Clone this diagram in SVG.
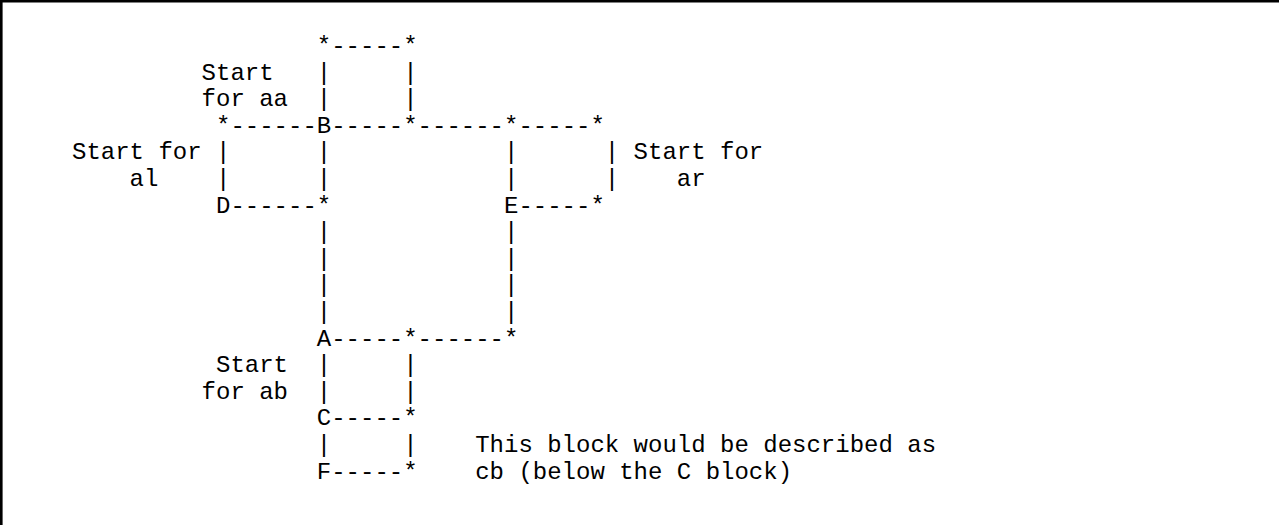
<svg xmlns="http://www.w3.org/2000/svg" width="1279" height="525" viewBox="0 0 1279 525">
<style>
text{font-family:'Liberation Mono','Courier New',monospace;font-size:24px;fill:#000;white-space:pre}
.frame{fill:none;stroke:#000;stroke-width:2.6}
</style>
<rect width="1279" height="525" fill="#fff"/>
<path class="frame" d="M1.3,525 V1.3 H1279"/>
<g id="connectors">
<text x="316.8" y="53">*-----*</text>
<text x="316.8 403.2" y="79.6">||</text>
<text x="316.8 403.2" y="106.2">||</text>
<text x="216" y="132.8">*------</text>
<text x="331.2" y="132.8">-----*------*-----*</text>
<text x="216 316.8 504 604.8" y="159.4">||||</text>
<text x="216 316.8 504 604.8" y="186">||||</text>
<text x="230.4" y="212.6">------*</text>
<text x="518.4" y="212.6">-----*</text>
<text x="316.8 504" y="239.2">||</text>
<text x="316.8 504" y="265.8">||</text>
<text x="316.8 504" y="292.4">||</text>
<text x="316.8 504" y="319">||</text>
<text x="331.2" y="345.6">-----*------*</text>
<text x="316.8 403.2" y="372.2">||</text>
<text x="316.8 403.2" y="398.8">||</text>
<text x="331.2" y="425.4">-----*</text>
<text x="316.8 403.2" y="452">||</text>
<text x="331.2" y="478.6">-----*</text>
</g>
<g id="node-B"><text x="316.8" y="132.8">B</text></g>
<g id="node-D"><text x="216" y="212.6">D</text></g>
<g id="node-E"><text x="504" y="212.6">E</text></g>
<g id="node-A"><text x="316.8" y="345.6">A</text></g>
<g id="node-C"><text x="316.8" y="425.4">C</text></g>
<g id="node-F"><text x="316.8" y="478.6">F</text></g>
<g id="label-aa">
<text x="201.6" y="79.6">Start</text>
<text x="201.6" y="106.2">for aa</text>
</g>
<g id="label-al">
<text x="72" y="159.4">Start for</text>
<text x="129.6" y="186">al</text>
</g>
<g id="label-ar">
<text x="633.6" y="159.4">Start for</text>
<text x="676.8" y="186">ar</text>
</g>
<g id="label-ab">
<text x="216" y="372.2">Start</text>
<text x="201.6" y="398.8">for ab</text>
</g>
<g id="note-cb">
<text x="475.2" y="452">This block would be described as</text>
<text x="475.2" y="478.6">cb (below the C block)</text>
</g>
</svg>
